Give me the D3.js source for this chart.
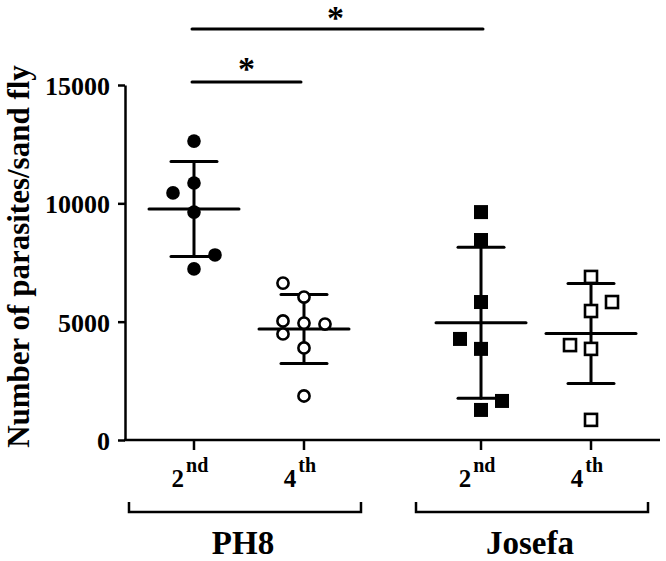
<!DOCTYPE html>
<html><head><meta charset="utf-8">
<script src="https://cdn.jsdelivr.net/npm/d3@7"></script>
<style>body{margin:0;background:#fff}svg{display:block}text{font-family:"Liberation Serif","Times New Roman",serif;font-weight:bold;fill:#000}</style>
</head><body><div id="chart"></div>
<script>
// ---- data ----
const groups = ["PH8", "Josefa"];
const instars = ["2nd", "4th"];
const yTicks = [0, 5000, 10000, 15000];
const yTitle = "Number of parasites/sand fly";

const ph8_2nd = [12630, 10860, 10440, 9630, 7820, 7230];
const ph8_2nd_slot = [0, 0, -1, 0, 1, 0];
const ph8_4th = [6630, 6040, 5030, 4940, 4900, 4480, 3890, 1860];
const ph8_4th_slot = [-1, 0, -1, 0, 1, -1, 0, 0];
const jos_2nd = [9630, 8450, 5830, 4270, 3850, 1650, 1270];
const jos_2nd_slot = [0, 0, 0, -1, 0, 1, 0];
const jos_4th = [6890, 5830, 5450, 4010, 3850, 850];
const jos_4th_slot = [0, 1, 0, -1, 0, 0];

const means = [9760, 4690, 4950, 4500];
const sds = [2010, 1460, 3190, 2110];

const series = [
  {group: "PH8", instar: "2nd", values: ph8_2nd, slots: ph8_2nd_slot, mean: means[0], sd: sds[0], shape: "circle", filled: true},
  {group: "PH8", instar: "4th", values: ph8_4th, slots: ph8_4th_slot, mean: means[1], sd: sds[1], shape: "circle", filled: false},
  {group: "Josefa", instar: "2nd", values: jos_2nd, slots: jos_2nd_slot, mean: means[2], sd: sds[2], shape: "square", filled: true},
  {group: "Josefa", instar: "4th", values: jos_4th, slots: jos_4th_slot, mean: means[3], sd: sds[3], shape: "square", filled: false}
];

// significance comparisons: [series index a, series index b, label]
const comparisons = [[0, 2, "*"], [0, 1, "*"]];

// ---- layout ----
const W = 666, H = 561;
const mLeft = 125, mRight = 660, mTop = 85, mBottom = 440;

const svg = d3.select("#chart").append("svg").attr("width", W).attr("height", H);

const y = d3.scaleLinear().domain([0, 15000]).range([mBottom, mTop]);
const xg = d3.scalePoint().domain(groups).range([mLeft, mRight]).padding(0.432);
const xi = d3.scalePoint().domain(instars).range([-55, 55]);
const jitter = d3.scaleLinear().domain([-1, 1]).range([-21, 21]);
const xc = s => xg(s.group) + xi(s.instar);

// y axis
const yAxis = svg.append("g").attr("transform", `translate(${mLeft},0)`)
  .call(d3.axisLeft(y).tickValues(yTicks).tickFormat(d3.format("d")).tickSize(7).tickPadding(8).tickSizeOuter(0));
yAxis.select(".domain").attr("stroke", "#000").attr("stroke-width", 2.5);
yAxis.selectAll(".tick line").attr("stroke", "#000").attr("stroke-width", 2.5);
yAxis.selectAll(".tick text").attr("font-size", 26).attr("font-family", "Liberation Serif").attr("font-weight", "bold").attr("dy", "0.36em").attr("fill", "#000");

// x axis line and ticks
svg.append("line").attr("x1", mLeft - 1).attr("x2", mRight).attr("y1", mBottom).attr("y2", mBottom)
  .attr("stroke", "#000").attr("stroke-width", 2.5);
series.forEach(s => {
  const cx = xc(s);
  svg.append("line").attr("x1", cx).attr("x2", cx).attr("y1", mBottom).attr("y2", mBottom + 10)
    .attr("stroke", "#000").attr("stroke-width", 2.5);
  const t = svg.append("text").attr("x", cx - 4).attr("y", mBottom + 47).attr("font-size", 25).attr("text-anchor", "middle");
  t.append("tspan").text(s.instar.charAt(0));
  t.append("tspan").attr("font-size", 20).attr("dy", -15).attr("dx", 2).text(s.instar.slice(1));
});

// group brackets
groups.forEach(g => {
  const c = xg(g) - 4;
  const hw = 116;
  svg.append("path").attr("d", `M${c - hw},${mBottom + 62}V${mBottom + 72}H${c + hw}V${mBottom + 62}`)
    .attr("fill", "none").attr("stroke", "#000").attr("stroke-width", 2.5);
  svg.append("text").attr("x", c - 2).attr("y", mBottom + 114).attr("text-anchor", "middle").attr("font-size", 33).text(g);
});

// y title
svg.append("text").attr("transform", `translate(29,${(mTop + mBottom) / 2 - 6}) rotate(-90)`)
  .attr("text-anchor", "middle").attr("font-size", 31).text(yTitle);

// error bars
series.forEach(s => {
  const cx = xc(s);
  const g = svg.append("g").attr("stroke", "#000").attr("stroke-width", 3).attr("stroke-linecap", "round");
  g.append("line").attr("x1", cx).attr("x2", cx).attr("y1", y(s.mean + s.sd)).attr("y2", y(s.mean - s.sd));
  g.append("line").attr("x1", cx - 23).attr("x2", cx + 23).attr("y1", y(s.mean + s.sd)).attr("y2", y(s.mean + s.sd));
  g.append("line").attr("x1", cx - 23).attr("x2", cx + 23).attr("y1", y(s.mean - s.sd)).attr("y2", y(s.mean - s.sd));
  g.append("line").attr("x1", cx - 45).attr("x2", cx + 45).attr("y1", y(s.mean)).attr("y2", y(s.mean));
});

// points
series.forEach(s => {
  const cx = xc(s);
  const pts = s.values.map((v, i) => ({x: cx + jitter(s.slots[i]), y: y(v)}));
  if (s.shape === "circle") {
    svg.append("g").selectAll("circle").data(pts).join("circle")
      .attr("cx", d => d.x).attr("cy", d => d.y)
      .attr("r", s.filled ? 6.8 : 5.6)
      .attr("fill", s.filled ? "#000" : "#fff")
      .attr("stroke", "#000").attr("stroke-width", s.filled ? 0 : 2.6);
  } else {
    const a = s.filled ? 14 : 12;
    svg.append("g").selectAll("rect").data(pts).join("rect")
      .attr("x", d => d.x - a / 2).attr("y", d => d.y - a / 2).attr("width", a).attr("height", a)
      .attr("fill", s.filled ? "#000" : "#fff")
      .attr("stroke", "#000").attr("stroke-width", s.filled ? 0 : 2.6);
  }
});

// significance lines
const sigY = [29, 82];
const starDy = [0, -2];
comparisons.forEach((c, i) => {
  const a = series[c[0]], b = series[c[1]];
  const x1 = xc(a) - 2, x2 = xc(b) + (i === 0 ? 2 : -3);
  svg.append("line").attr("x1", x1).attr("x2", x2).attr("y1", sigY[i]).attr("y2", sigY[i])
    .attr("stroke", "#000").attr("stroke-width", 3).attr("stroke-linecap", "round");
  svg.append("text").attr("x", (x1 + x2) / 2 - 2 + (i === 1 ? 2 : 0)).attr("y", sigY[i] + starDy[i]).attr("text-anchor", "middle")
    .attr("font-size", 34).text(c[2]);
});
</script></body></html>
